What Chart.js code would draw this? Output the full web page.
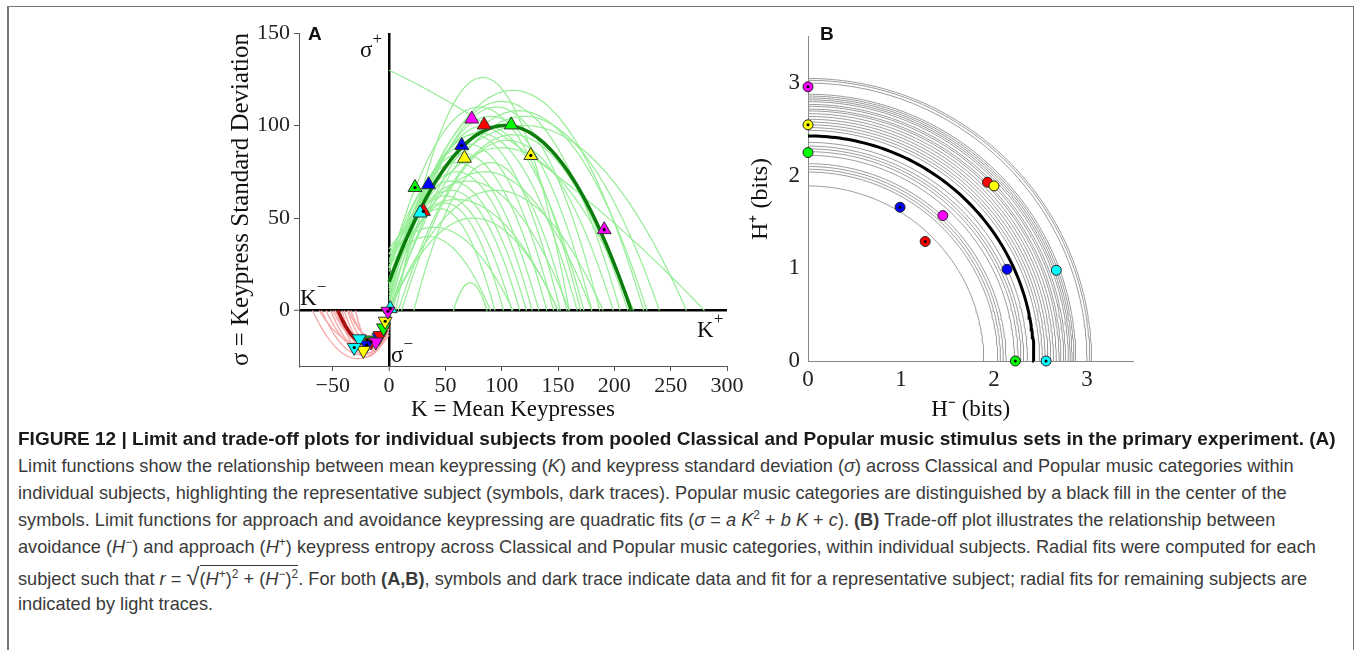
<!DOCTYPE html>
<html>
<head>
<meta charset="utf-8">
<script src="https://cdn.jsdelivr.net/npm/chart.js@4.4.0/dist/chart.umd.min.js"></script>
<style>
  body { margin: 0; background: #fff; width: 1360px; height: 650px; overflow: hidden; position: relative;
         font-family: "Liberation Sans", Arial, sans-serif; }
  .frame { position: absolute; left: 7px; top: 6px; width: 1344px; height: 700px;
           border: 1px solid #777; border-left-width: 2px; }
  canvas { position: absolute; }
  #limitChart { left: 222px; top: 15px; }
  #tradeChart { left: 735px; top: 15px; }
  .panel { position: absolute; font: bold 19px "Liberation Sans", Arial, sans-serif; color: #111; line-height: 19px; }
  .qlab { position: absolute; font: 23px "Liberation Serif", "Times New Roman", serif; color: #111; line-height: 23px; }
  .qlab sup { font-size: 17px; vertical-align: 13px; line-height: 0; }
  .cap { position: absolute; left: 18px; white-space: nowrap; font-size: 18.2px; line-height: 20px; color: #3a3a3a; }
  .cap.head { font-weight: bold; font-size: 19px; color: #1a1a1a; }
  .cap sup { font-size: 12px; line-height: 0; }
  .rad { border-top: 1px solid #3a3a3a; padding-top: 3px; }
  .sq { font-size: 24px; }
</style>
</head>
<body>
<div class="frame"></div>
<canvas id="limitChart" width="528" height="420"></canvas>
<canvas id="tradeChart" width="415" height="420"></canvas>

<div class="panel" style="left:308px; top:24px;">A</div>
<div class="panel" style="left:820px; top:24px;">B</div>

<div class="qlab" style="left:360px; top:38px;">σ<sup>+</sup></div>
<div class="qlab" style="left:300px; top:286px;">K<sup>−</sup></div>
<div class="qlab" style="left:697px; top:318px;">K<sup>+</sup></div>
<div class="qlab" style="left:391px; top:343px;">σ<sup>−</sup></div>

<div class="cap head" style="top:429px;">FIGURE 12 | Limit and trade-off plots for individual subjects from pooled Classical and Popular music stimulus sets in the primary experiment. (A)</div>
<div class="cap" style="top:456px;">Limit functions show the relationship between mean keypressing (<i>K</i>) and keypress standard deviation (<i>σ</i>) across Classical and Popular music categories within</div>
<div class="cap" style="top:483px;">individual subjects, highlighting the representative subject (symbols, dark traces). Popular music categories are distinguished by a black fill in the center of the</div>
<div class="cap" style="top:510px;">symbols. Limit functions for approach and avoidance keypressing are quadratic fits (<i>σ</i> = <i>a K</i><sup>2</sup> + <i>b K</i> + <i>c</i>). <b>(B)</b> Trade-off plot illustrates the relationship between</div>
<div class="cap" style="top:537px;">avoidance (<i>H</i><sup>−</sup>) and approach (<i>H</i><sup>+</sup>) keypress entropy across Classical and Popular music categories, within individual subjects. Radial fits were computed for each</div>
<div class="cap" style="top:567px;">subject such that <i>r</i> = <span class="sq">√</span><span class="rad">(<i>H</i><sup>+</sup>)<sup>2</sup> + (<i>H</i><sup>−</sup>)<sup>2</sup></span>. For both <b>(A,B)</b>, symbols and dark trace indicate data and fit for a representative subject; radial fits for remaining subjects are</div>
<div class="cap" style="top:594px;">indicated by light traces.</div>

<script>
// ---- panel A: limit functions (sigma vs K) ----
const kTicks = [-50, 0, 50, 100, 150, 200, 250, 300];
const sigmaTicks = [0, 50, 100, 150];

// approach fits per subject: vertex K, vertex sigma, right zero crossing
const approachPeakK =     [83, 110, 100, 95, 115, 120, -230, 90, 85, 80, 75, 70, 65, 60, 60, 55, 55, 50, 50, 45, 72, 100, 105, 110, 90, 85, 70, 60, 40, 35, 80, 120, 95, 75];
const approachPeakSigma = [126, 119, 113, 110, 108, 100, 163, 105, 100, 96, 95, 90, 85, 80, 75, 70, 65, 62, 58, 55, 15, 88, 92, 95, 80, 75, 70, 60, 45, 40, 110, 105, 65, 50];
const approachRootK =     [160, 226, 205, 187, 229, 264, 280, 180, 173, 167, 152, 146, 140, 133, 127, 122, 116, 109, 101.5, 94, 87, 217, 199, 212, 158, 180, 160, 150, 110, 90, 170, 240, 190, 150];

// avoidance fits per subject: vertex K, vertex sigma, left zero crossing
const avoidPeakK =     [-28, -25, -22, -20, -18, -17, -15, -24, -21, -19, -26, -16, -23, -14];
const avoidPeakSigma = [-26, -24, -22, -25, -20, -18, -16, -21, -19, -23, -18, -14, -17, -20];
const avoidRootK =     [-68, -60, -52, -45, -40, -37, -34, -56, -48, -42, -62, -36, -50, -30];

// representative subject fits
const repApproach = { peakK: 103, peakSigma: 100, rootK: 215 };
const repAvoid = { peakK: -20, peakSigma: -18, rootK: -45.5 };

// representative subject data per music category
const upK =       [1, 73.4, 84.4, 108.4, 64.5, 66.9, 125.8, 23, 35, 30.5, 27.5, 191];
const upSigma =   [1, 103.5, 100.3, 100.3, 89.2, 82.3, 83.8, 66.5, 68, 53.6, 52.7, 43.7];
const upColor =   ['cyan', 'magenta', 'red', 'green', 'blue', 'yellow', 'yellow', 'green', 'blue', 'red', 'cyan', 'magenta'];
const upPopular = [1, 0, 0, 0, 1, 0, 1, 1, 0, 1, 0, 1];

const downK =       [-19.5, -9, -8, -16, -19.8, -22.8, -26.6, -31, -11.8, -5, -3.5, -1];
const downSigma =   [-16, -14.5, -13.5, -17, -18.5, -21.6, -15.3, -20, -17, -9.4, -5.8, -0.4];
const downColor =   ['green', 'blue', 'red', 'red', 'blue', 'yellow', 'cyan', 'cyan', 'magenta', 'green', 'yellow', 'magenta'];
const downPopular = [1, 0, 0, 1, 1, 0, 0, 1, 0, 0, 1, 1];

// ---- panel B: trade-off (H+ vs H-) ----
const hTicks = [0, 1, 2, 3];
const radialFits = [1.89, 2.04, 2.07, 2.10, 2.13, 2.22, 2.26, 2.29, 2.32, 2.36, 2.49, 2.52, 2.55, 2.58, 2.61, 2.64, 2.67, 2.70, 2.72, 2.75, 2.77, 2.80, 2.82, 2.84, 2.86, 2.88, 3.00, 3.03, 3.05];
const repRadius = 2.43;

const hMinus =   [0, 0, 0, 1.93, 2.0, 0.99, 1.45, 1.26, 2.14, 2.67, 2.23, 2.56];
const hPlus =    [2.96, 2.55, 2.25, 1.93, 1.89, 1.66, 1.57, 1.29, 0.99, 0.98, 0, 0];
const hColor =   ['magenta', 'yellow', 'green', 'red', 'yellow', 'blue', 'magenta', 'red', 'blue', 'cyan', 'green', 'cyan'];
const hPopular = [1, 1, 0, 0, 0, 1, 0, 1, 0, 0, 1, 1];

const palette = { magenta: '#ff00ff', red: '#ff0000', green: '#00ff00', blue: '#0000ff', yellow: '#ffff00', cyan: '#00ffff' };

const serif = '"Liberation Serif", "Times New Roman", serif';

// quadratic limit function through its vertex, kept to its own quadrant
function limitCurve(peakK, peakSigma, rootK, side) {
  const other = 2 * peakK - rootK;
  let lo = Math.min(rootK, other), hi = Math.max(rootK, other);
  if (side > 0) lo = Math.max(lo, 0); else hi = Math.min(hi, 0);
  const half = rootK - peakK;
  const pts = [];
  for (let i = 0; i <= 80; i++) {
    const k = lo + (hi - lo) * i / 80;
    const u = (k - peakK) / half;
    pts.push({ x: k, y: peakSigma * (1 - u * u) });
  }
  return pts;
}

// quarter circle r = sqrt(H+^2 + H-^2)
function radialCurve(r) {
  const pts = [];
  for (let i = 0; i <= 90; i++) {
    const t = i * Math.PI / 180;
    pts.push({ x: r * Math.cos(t), y: r * Math.sin(t) });
  }
  return pts;
}

function lineSet(data, color, width, order) {
  return { type: 'scatter', data, showLine: true, borderColor: color, borderWidth: width,
           pointRadius: 0, tension: 0, fill: false, order, clip: false };
}

const minus = v => (v < 0 ? '\u2212' + Math.abs(v) : String(v));

// ---- build panel A ----
const markerPts = upK.map((k, i) => ({ x: k, y: upSigma[i] }))
  .concat(downK.map((k, i) => ({ x: k, y: downSigma[i] })));
const markerColors = upColor.concat(downColor).map(c => palette[c]);
const markerRot = upK.map(() => 0).concat(downK.map(() => 180));
const popularPts = markerPts.filter((p, i) => upPopular.concat(downPopular)[i]);

const datasetsA = [
  { type: 'scatter', data: popularPts, pointRadius: 1.6, pointBackgroundColor: '#000', pointBorderWidth: 0, order: 0, clip: false },
  { type: 'scatter', data: markerPts, pointStyle: 'triangle', pointRadius: 8, pointRotation: markerRot,
    pointBackgroundColor: markerColors, pointBorderColor: '#333', pointBorderWidth: 1, order: 1, clip: false },
  lineSet(limitCurve(repApproach.peakK, repApproach.peakSigma, repApproach.rootK, 1), '#0c7d0c', 3.5, 2),
  lineSet(limitCurve(repAvoid.peakK, repAvoid.peakSigma, repAvoid.rootK, -1), '#a80f0f', 3.5, 2)
];
approachPeakK.forEach((k, i) => {
  datasetsA.push(lineSet(limitCurve(k, approachPeakSigma[i], approachRootK[i], 1), '#95ee95', 1.2, 3));
});
avoidPeakK.forEach((k, i) => {
  datasetsA.push(lineSet(limitCurve(k, avoidPeakSigma[i], avoidRootK[i], -1), '#f6a5a5', 1.2, 3));
});

new Chart(document.getElementById('limitChart'), {
  type: 'scatter',
  data: { datasets: datasetsA },
  options: {
    animation: false,
    responsive: false,
    events: [],
    layout: { padding: { top: 18, right: 23, bottom: 0, left: 0 } },
    plugins: { legend: { display: false }, tooltip: { enabled: false } },
    scales: {
      x: {
        type: 'linear', min: -80, max: 300,
        afterBuildTicks: s => { s.ticks = kTicks.map(v => ({ value: v })); },
        afterFit: s => { s.height = 69; },
        ticks: { font: { family: serif, size: 22 }, color: '#222', padding: 2, maxRotation: 0, callback: minus },
        grid: {
          color: c => (c.tick && c.tick.value === 0 ? '#000' : 'rgba(0,0,0,0)'),
          lineWidth: c => (c.tick && c.tick.value === 0 ? 2.5 : 1),
          tickColor: '#555', tickLength: 5, tickWidth: 1
        },
        border: { display: true, color: '#555', width: 1 },
        title: { display: true, text: 'K = Mean Keypresses', color: '#111',
                 font: { family: serif, size: 23 }, padding: { top: 0, bottom: 11 } }
      },
      y: {
        type: 'linear', min: -30, max: 150,
        afterBuildTicks: s => { s.ticks = sigmaTicks.map(v => ({ value: v })); },
        afterFit: s => { s.width = 77; },
        ticks: { font: { family: serif, size: 22 }, color: '#222', padding: 4, callback: minus },
        grid: {
          color: c => (c.tick && c.tick.value === 0 ? '#000' : 'rgba(0,0,0,0)'),
          lineWidth: c => (c.tick && c.tick.value === 0 ? 2.5 : 1),
          tickColor: '#555', tickLength: 5, tickWidth: 1
        },
        border: { display: true, color: '#555', width: 1 },
        title: { display: true, text: 'σ = Keypress Standard Deviation', color: '#111',
                 font: { family: serif, size: 25 }, padding: { top: 4, bottom: 0 } }
      }
    }
  }
});

// ---- build panel B ----
const entropyPts = hMinus.map((h, i) => ({ x: h, y: hPlus[i] }));
const datasetsB = [
  { type: 'scatter', data: entropyPts.filter((p, i) => hPopular[i]), pointRadius: 1.5,
    pointBackgroundColor: '#000', pointBorderWidth: 0, order: 0, clip: false },
  { type: 'scatter', data: entropyPts, pointRadius: 5, pointBackgroundColor: hColor.map(c => palette[c]),
    pointBorderColor: '#222', pointBorderWidth: 1, order: 1, clip: false },
  lineSet(radialCurve(repRadius), '#000', 3, 2)
];
radialFits.forEach(r => datasetsB.push(lineSet(radialCurve(r), '#9a9a9a', 1, 3)));

new Chart(document.getElementById('tradeChart'), {
  type: 'scatter',
  data: { datasets: datasetsB },
  options: {
    animation: false,
    responsive: false,
    events: [],
    layout: { padding: { top: 18, right: 16.5, bottom: 0, left: 0 } },
    plugins: { legend: { display: false }, tooltip: { enabled: false } },
    scales: {
      x: {
        type: 'linear', min: 0, max: 3.5,
        afterBuildTicks: s => { s.ticks = hTicks.map(v => ({ value: v })); },
        afterFit: s => { s.height = 74; },
        ticks: { font: { family: serif, size: 23 }, color: '#222', padding: 5, maxRotation: 0 },
        grid: { drawOnChartArea: false, drawTicks: false },
        border: { display: true, color: '#888', width: 1 },
        title: { display: true, text: 'H\u207b (bits)', color: '#111',
                 font: { family: serif, size: 23 }, padding: { top: 0, bottom: 11 } }
      },
      y: {
        type: 'linear', min: 0, max: 3.5,
        afterBuildTicks: s => { s.ticks = hTicks.map(v => ({ value: v })); },
        afterFit: s => { s.width = 73; },
        ticks: { font: { family: serif, size: 23 }, color: '#222', padding: 8 },
        grid: { drawOnChartArea: false, drawTicks: false },
        border: { display: true, color: '#888', width: 1 },
        title: { display: true, text: 'H\u207a (bits)', color: '#111',
                 font: { family: serif, size: 24 }, padding: { top: 11, bottom: 0 } }
      }
    }
  }
});
</script>
</body>
</html>
